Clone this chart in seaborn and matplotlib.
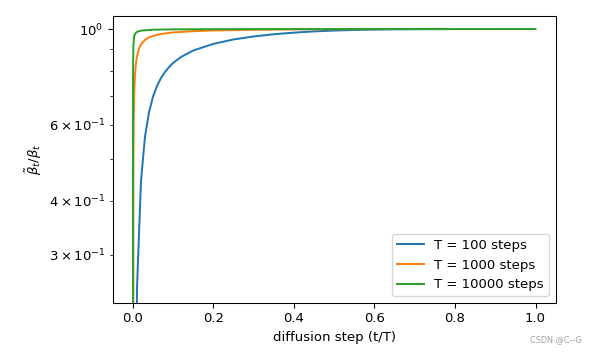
#!/usr/bin/env python3
"""beta_tilde / beta 比值随扩散步数的变化"""
import matplotlib
matplotlib.use('Agg')
import matplotlib.pyplot as plt
import seaborn as sns

# T = 100
x_100 = [0.0, 0.01, 0.02, 0.03, 0.04, 0.05, 0.06, 0.07, 0.08, 0.09, 0.10, 0.12, 0.15,
         0.20, 0.25, 0.30, 0.35, 0.40, 0.45, 0.50, 0.55, 0.60, 0.65, 0.70, 0.80, 0.90, 0.99]
y_100 = [0.0, 0.2496, 0.4447, 0.564, 0.642, 0.698, 0.739, 0.771, 0.796, 0.817, 0.835, 0.862, 0.892,
         0.924, 0.946, 0.961, 0.9726, 0.981, 0.9874, 0.9919, 0.9951, 0.99714, 0.99844, 0.99919,
         0.99982, 0.99997, 1.0]

# T = 1000
x_1000 = [0.0, 0.001, 0.002, 0.003, 0.004, 0.005, 0.007, 0.010, 0.015, 0.020, 0.030, 0.040,
          0.050, 0.070, 0.10, 0.15, 0.20, 0.30, 0.40, 0.50, 0.60, 0.70, 0.80, 0.999]
y_1000 = [0.0, 0.455, 0.611, 0.6925, 0.743, 0.778, 0.8237, 0.864, 0.900, 0.921, 0.944, 0.9565,
          0.964, 0.9743, 0.9821, 0.9886, 0.9922, 0.996, 0.998, 0.99915, 0.9997, 0.9999, 0.99997, 1.0]

# T = 10000
x_10000 = [0.0, 0.0001, 0.0002, 0.0003, 0.0005, 0.001, 0.002, 0.003, 0.005, 0.01, 0.02,
           0.05, 0.10, 0.20, 0.30, 0.40, 0.50, 0.60, 0.9999]
y_10000 = [0.0, 0.495, 0.660, 0.743, 0.8254, 0.901, 0.9444, 0.9604, 0.974, 0.985, 0.9917,
           0.9964, 0.9982, 0.99922, 0.9996, 0.9998, 0.9999, 0.99997, 1.0]

series = [
    (x_100, y_100, 'T = 100 steps', '#1f77b4'),
    (x_1000, y_1000, 'T = 1000 steps', '#ff7f0e'),
    (x_10000, y_10000, 'T = 10000 steps', '#2ca02c'),
]

# 原图是稍大的图缩小而来，用 95 dpi 模拟
DPI = 95
fig = plt.figure(figsize=(600 / DPI, 353 / DPI), dpi=DPI)
ax = fig.add_axes([0.188, 0.1416, 0.738, 0.8131])

for xs, ys, label, color in series:
    sns.lineplot(x=xs, y=ys, ax=ax, label=label, color=color,
                 estimator=None, sort=False, linewidth=1.5)

ax.set_yscale('log')
ax.set_ylim(0.232, 1.072)
ax.set_xlabel('diffusion step (t/T)')
ax.set_ylabel(r'$\tilde{\beta}_t/\beta_t$')
ax.legend(loc='lower right')

fig.text(0.969, 0.039, 'CSDN @C--G', ha='right', va='center', fontsize=6.2, color='#a0a0a0')

plt.savefig('out.png', dpi=DPI)
